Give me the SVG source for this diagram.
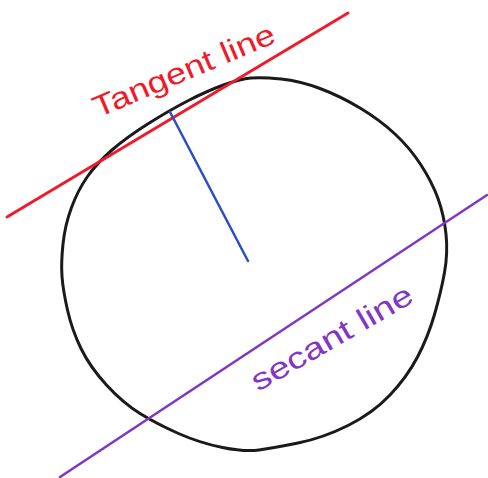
<svg xmlns="http://www.w3.org/2000/svg" width="488" height="478" viewBox="0 0 488 478">
<style>
.ln{fill:none;stroke-linecap:round;stroke-linejoin:round}
.lbl{font-family:"Liberation Sans","DejaVu Sans",sans-serif;font-size:30px}
</style>
<rect width="488" height="478" fill="#ffffff"/>
<g id="circle">
<path class="ln" stroke="#1a1a1a" stroke-width="3" d="M251,78 Q262,77 281,79 Q300,81 320,88.5 Q340,96 360,108 Q380,120 395,134 Q410,148 421,165 Q432,182 438,198.5 Q444,215 446,234 Q448,253 444.5,272.5 Q441,292 434.5,314.5 Q428,337 417.5,357 Q407,377 390,395 Q373,413 348,425.5 Q323,438 298,443 Q273,448 259,450 Q245,452 222.5,447.5 Q200,443 178.5,433.5 Q157,424 140,413.5 Q123,403 106.5,385 Q90,367 81,348.5 Q72,330 67.5,310 Q63,290 62,276.5 Q61,263 63,244 Q65,225 71.5,207.5 Q78,190 87.5,176.5 Q97,163 112,150 Q127,137 148.5,123.5 Q170,110 188.5,100.5 Q207,91 223.5,85 Q240,79 251,78 Z"/>
</g>
<g id="connectors">
<g id="tangent-line"><line class="ln" x1="7" y1="217" x2="348" y2="13" stroke="#ee1c2a" stroke-width="3"/></g>
<g id="radius"><line class="ln" x1="170" y1="112" x2="248" y2="261" stroke="#2a4fc4" stroke-width="2.5"/></g>
<g id="secant-line"><line class="ln" x1="60" y1="477" x2="487" y2="195" stroke="#8236c4" stroke-width="2.5"/></g>
</g>
<g id="tangent-label">
<text class="lbl" x="98" y="118" fill="#ee1c2a" transform="rotate(-23 98 118)" textLength="195" lengthAdjust="spacingAndGlyphs">Tangent line</text>
</g>
<g id="secant-label">
<text class="lbl" x="258" y="392" fill="#8236c4" transform="rotate(-30 258 392)" textLength="182" lengthAdjust="spacingAndGlyphs">secant line</text>
</g>
</svg>
